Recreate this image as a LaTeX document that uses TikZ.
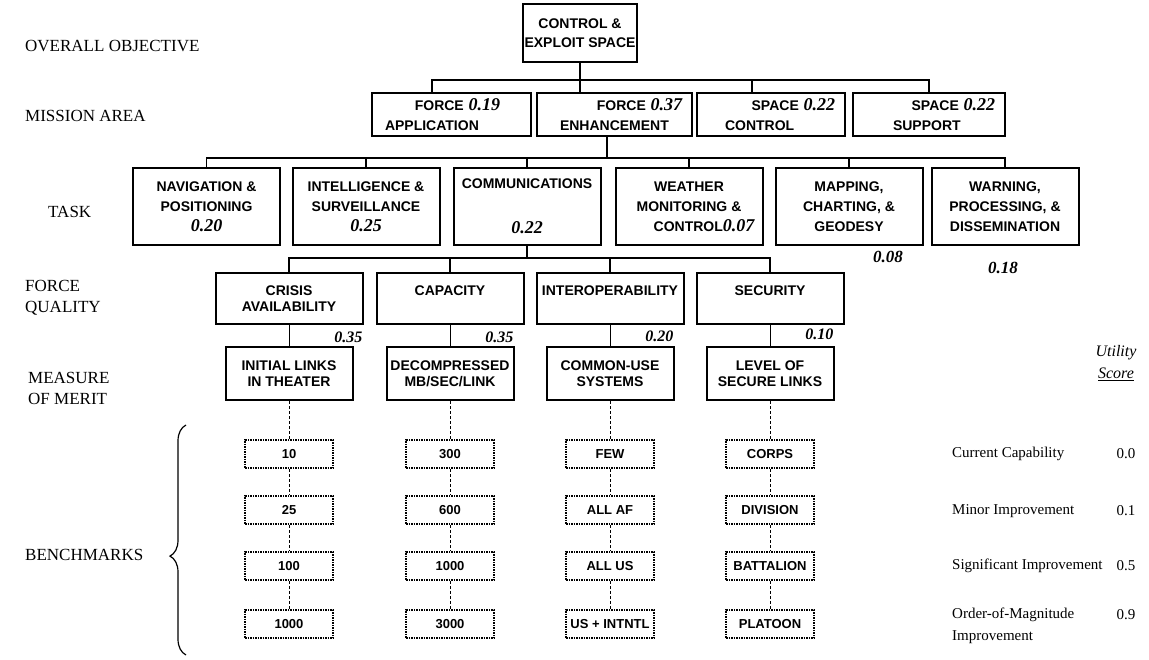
\documentclass[tikz,border=0pt]{standalone}
\usepackage{fontspec}
\setmainfont{Liberation Serif}
\newfontfamily\boxfont{Liberation Sans}
\usepackage{tikz}
\usetikzlibrary{decorations.pathreplacing}

\newcommand{\boxtext}{\boxfont\bfseries\fontsize{14}{16}\selectfont}
\newcommand{\tasktext}{\boxfont\bfseries\fontsize{14}{20}\selectfont}
\newcommand{\benchtext}{\boxfont\bfseries\fontsize{13}{15}\selectfont}
\newcommand{\rowtext}{\rmfamily\fontsize{17}{21}\selectfont}
\newcommand{\scoretext}{\rmfamily\fontsize{15}{22}\selectfont}
\newcommand{\wt}[1]{{\rmfamily\bfseries\itshape\fontsize{18}{18}\selectfont #1}}

\begin{document}
\begin{tikzpicture}[x=1pt, y=-1pt,
	box/.style={draw, line width=2pt, inner sep=2pt, align=center, font=\boxtext},
	mbox/.style={box, align=left, inner xsep=10pt, minimum height=43pt, text width=#1},
	tbox/.style={box, minimum width=147pt, minimum height=77pt, font=\tasktext},
	qbox/.style={box, minimum width=147pt, minimum height=51pt},
	mmbox/.style={box, minimum width=127pt, minimum height=53pt},
	bench/.style={draw, densely dotted, line width=1.5pt, minimum width=88pt, minimum height=28pt, inner sep=2pt, font=\benchtext},
	tree/.style={line width=1.6pt},
	link/.style={line width=1pt},
	dots/.style={line width=0.8pt, densely dashed},
	wlab/.style={inner sep=1pt, font=\rmfamily\bfseries\itshape\fontsize{16}{16}\selectfont},
	row/.style={anchor=west, align=left, inner sep=0pt, font=\rowtext},
	score/.style={anchor=west, align=left, inner sep=0pt, font=\scoretext}]
	\useasboundingbox (0,0) rectangle (1149,660);

	% row labels
	\node[row] (l-obj) at (25,46) {OVERALL OBJECTIVE};
	\node[row] (l-mis) at (25,116) {MISSION AREA};
	\node[row] (l-task) at (48,212) {TASK};
	\node[row] (l-fq) at (25,298) {FORCE\\QUALITY};
	\node[row] (l-mom) at (28,388) {MEASURE\\OF MERIT};
	\node[row] (l-bench) at (25,555) {BENCHMARKS};

	% objective and mission areas
	\node[box, minimum width=106pt, minimum height=58pt] (obj) at (580,33) {CONTROL \&\\[3pt]EXPLOIT SPACE};
	\node[mbox=139pt] (fa) at (451.5,114.5) {\hfill FORCE \wt{0.19}\hspace*{21pt}\mbox{}\\[4pt]\hspace*{3pt}APPLICATION};
	\node[mbox=135pt] (fe) at (614.5,114.5) {\hfill FORCE \wt{0.37}\\[4pt]\hspace*{13pt}ENHANCEMENT};
	\node[mbox=128pt] (sc) at (771,114.5) {\hfill SPACE \wt{0.22}\\[4pt]\hspace*{18pt}CONTROL};
	\node[mbox=132pt] (ss) at (929,114.5) {\hfill SPACE \wt{0.22}\\[4pt]\hspace*{30pt}SUPPORT};
	\draw[tree] (obj.south) -- ++(0,17) -| ([xshift=-19.5pt]fa.north);
	\draw[tree] (obj.south) -- ([xshift=-34.5pt]fe.north);
	\draw[tree] (obj.south) -- ++(0,17) -| ([xshift=-19pt]sc.north);
	\draw[tree] (obj.south) -- ++(0,17) -| (ss.north);

	% tasks
	\node[tbox] (nav) at (206.5,206.5) {NAVIGATION \&\\POSITIONING\\\wt{0.20}};
	\node[tbox] (intel) at (366,206.5) {INTELLIGENCE \&\\SURVEILLANCE\\\wt{0.25}};
	\node[tbox] (comm) at (527,206.5) {COMMUNICATIONS\\[25pt]\wt{0.22}};
	\node[tbox] (wthr) at (689,206.5) {WEATHER\\MONITORING \&\\\hspace*{30pt}CONTROL\wt{0.07}};
	\node[tbox] (map) at (849,206.5) {MAPPING,\\CHARTING, \&\\GEODESY};
	\node[tbox] (warn) at (1005,206.5) {WARNING,\\PROCESSING, \&\\DISSEMINATION};
	\node[wlab, font=\rmfamily\bfseries\itshape\fontsize{17}{17}\selectfont] (w-map) at (888,257) {0.08};
	\node[wlab, font=\rmfamily\bfseries\itshape\fontsize{17}{17}\selectfont] (w-warn) at (1003,268) {0.18};
	\draw[tree] ([xshift=-7.5pt]fe.south) -- ++(0,21) -| (nav.north);
	\draw[tree] ([xshift=-7.5pt]fe.south) -- ++(0,21) -| (intel.north);
	\draw[tree] ([xshift=-7.5pt]fe.south) -- ++(0,21) -| (comm.north);
	\draw[tree] ([xshift=-7.5pt]fe.south) -- ++(0,21) -| (wthr.north);
	\draw[tree] ([xshift=-7.5pt]fe.south) -- ++(0,21) -| (map.north);
	\draw[tree] ([xshift=-7.5pt]fe.south) -- ++(0,21) -| (warn.north);

	% force qualities
	\node[qbox] (cri) at (289,298.5) {CRISIS\\AVAILABILITY};
	\node[qbox] (cap) at (450,298.5) {CAPACITY\\\mbox{}};
	\node[qbox] (iop) at (610,298.5) {INTEROPERABILITY\\\mbox{}};
	\node[qbox] (sec) at (770,298.5) {SECURITY\\\mbox{}};
	\draw[tree] (comm.south) -- ++(0,12) -| (cri.north);
	\draw[tree] (comm.south) -- ++(0,12) -| (cap.north);
	\draw[tree] (comm.south) -- ++(0,12) -| (iop.north);
	\draw[tree] (comm.south) -- ++(0,12) -| (sec.north);

	% measures of merit
	\node[mmbox] (ini) at (289,373.5) {INITIAL LINKS\\IN THEATER};
	\node[mmbox] (dec) at (450,373.5) {DECOMPRESSED\\MB/SEC/LINK};
	\node[mmbox] (cmu) at (610,373.5) {COMMON-USE\\SYSTEMS};
	\node[mmbox] (lvl) at (770,373.5) {LEVEL OF\\SECURE LINKS};
	\draw[link] (cri) -- (ini);
	\draw[link] (cap) -- (dec);
	\draw[link] (iop) -- (cmu);
	\draw[link] (sec) -- (lvl);
	\node[wlab, anchor=north east] (w-cri) at ([yshift=-6pt]cri.south east) {0.35};
	\node[wlab, anchor=north east] (w-cap) at ([xshift=-10pt,yshift=-6pt]cap.south east) {0.35};
	\node[wlab, anchor=north east] (w-iop) at ([xshift=-10pt,yshift=-5pt]iop.south east) {0.20};
	\node[wlab, anchor=north east] (w-sec) at ([xshift=-10pt,yshift=-3pt]sec.south east) {0.10};

	% benchmarks
	\node[bench] (b11) at (289,454) {10};
	\node[bench] (b12) at (289,510) {25};
	\node[bench] (b13) at (289,566) {100};
	\node[bench] (b14) at (289,624) {1000};
	\node[bench] (b21) at (450,454) {300};
	\node[bench] (b22) at (450,510) {600};
	\node[bench] (b23) at (450,566) {1000};
	\node[bench] (b24) at (450,624) {3000};
	\node[bench] (b31) at (610,454) {FEW};
	\node[bench] (b32) at (610,510) {ALL AF};
	\node[bench] (b33) at (610,566) {ALL US};
	\node[bench] (b34) at (610,624) {US + INTNTL};
	\node[bench] (b41) at (770,454) {CORPS};
	\node[bench] (b42) at (770,510) {DIVISION};
	\node[bench] (b43) at (770,566) {BATTALION};
	\node[bench] (b44) at (770,624) {PLATOON};
	\draw[dots] (ini) -- (b11) -- (b12) -- (b13) -- (b14);
	\draw[dots] (dec) -- (b21) -- (b22) -- (b23) -- (b24);
	\draw[dots] (cmu) -- (b31) -- (b32) -- (b33) -- (b34);
	\draw[dots] (lvl) -- (b41) -- (b42) -- (b43) -- (b44);
	\coordinate (br-top) at (186,425);
	\coordinate (br-bot) at (186,655);
	\draw[line width=1.2pt, decorate, decoration={brace, amplitude=16pt, aspect=0.43}] (br-bot) -- (br-top);

	% utility scores
	\node[score, anchor=center, align=center, font=\rmfamily\fontsize{16}{22}\selectfont] (u-head) at (1116,363) {\textit{Utility}\\\underline{\textit{Score}}};
	\node[score] (s-cur) at (952,454) {Current Capability};
	\node[score] (s-min) at (952,511) {Minor Improvement};
	\node[score] (s-sig) at (952,566) {Significant Improvement};
	\node[score] (s-ord) at (952,626) {Order-of-Magnitude\\Improvement};
	\node[score, anchor=center] (v-cur) at (1126,454) {0.0};
	\node[score, anchor=center] (v-min) at (1126,511) {0.1};
	\node[score, anchor=center] (v-sig) at (1126,566) {0.5};
	\node[score, anchor=center] (v-ord) at (1126,615) {0.9};
\end{tikzpicture}
\end{document}
